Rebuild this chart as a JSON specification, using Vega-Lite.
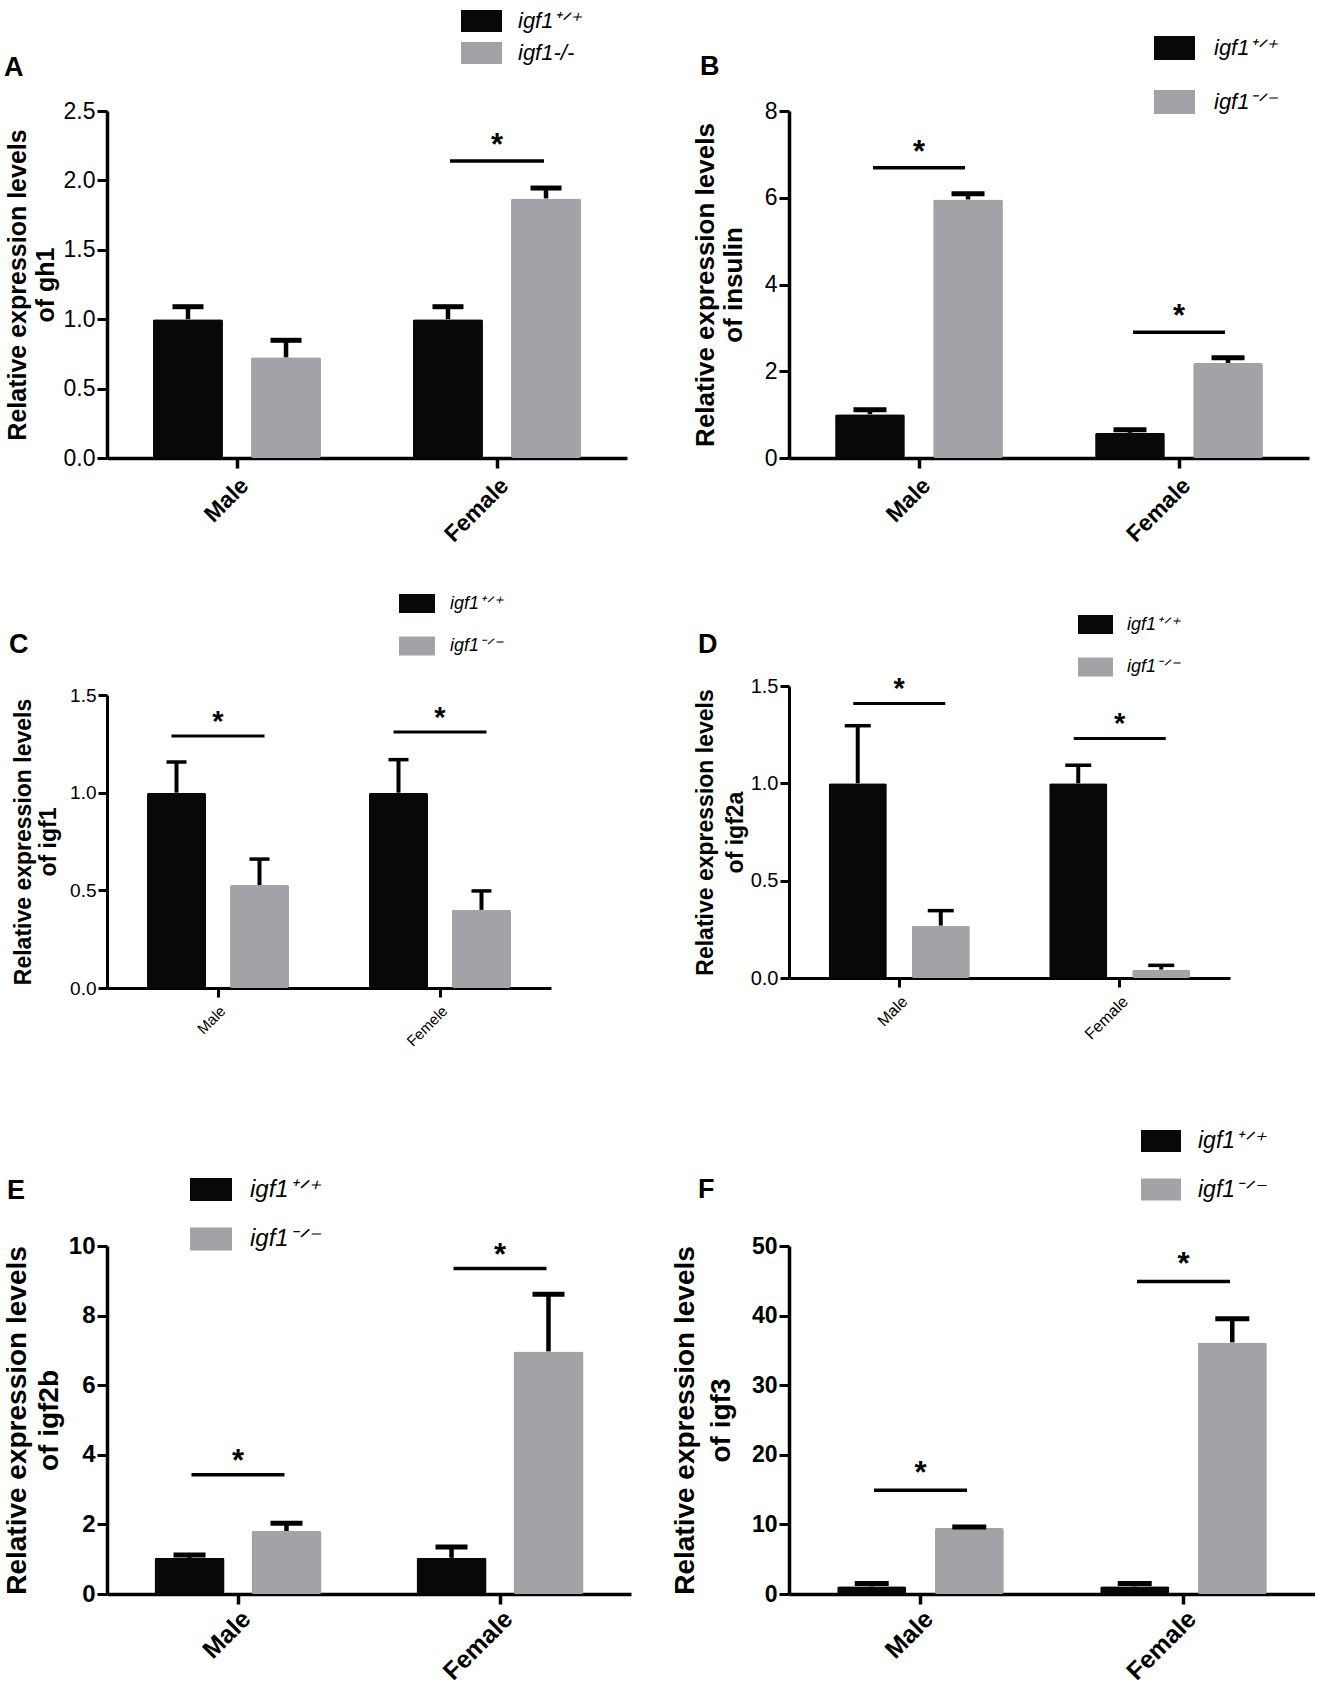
{
  "$schema": "https://vega.github.io/schema/vega-lite/v6.json",
  "background": "white",
  "padding": {"left": 3, "top": 0, "right": 0, "bottom": 5},
  "autosize": {"type": "pad"},
  "datasets": {
    "bars": [
      {"panel": "A", "sex": "Male", "genotype": "igf1+/+", "value": 1.0, "upper": 1.09},
      {"panel": "A", "sex": "Male", "genotype": "igf1-/-", "value": 0.725, "upper": 0.848},
      {"panel": "A", "sex": "Female", "genotype": "igf1+/+", "value": 1.0, "upper": 1.09},
      {"panel": "A", "sex": "Female", "genotype": "igf1-/-", "value": 1.87, "upper": 1.945},
      {"panel": "B", "sex": "Male", "genotype": "igf1+/+", "value": 1.01, "upper": 1.11},
      {"panel": "B", "sex": "Male", "genotype": "igf1-/-", "value": 5.96, "upper": 6.09},
      {"panel": "B", "sex": "Female", "genotype": "igf1+/+", "value": 0.58, "upper": 0.65},
      {"panel": "B", "sex": "Female", "genotype": "igf1-/-", "value": 2.19, "upper": 2.31},
      {"panel": "C", "sex": "Male", "genotype": "igf1+/+", "value": 1.0, "upper": 1.157},
      {"panel": "C", "sex": "Male", "genotype": "igf1-/-", "value": 0.527, "upper": 0.66},
      {"panel": "C", "sex": "Female", "genotype": "igf1+/+", "value": 1.0, "upper": 1.169},
      {"panel": "C", "sex": "Female", "genotype": "igf1-/-", "value": 0.4, "upper": 0.497},
      {"panel": "D", "sex": "Male", "genotype": "igf1+/+", "value": 1.0, "upper": 1.296},
      {"panel": "D", "sex": "Male", "genotype": "igf1-/-", "value": 0.269, "upper": 0.346},
      {"panel": "D", "sex": "Female", "genotype": "igf1+/+", "value": 1.0, "upper": 1.093},
      {"panel": "D", "sex": "Female", "genotype": "igf1-/-", "value": 0.043, "upper": 0.065},
      {"panel": "E", "sex": "Male", "genotype": "igf1+/+", "value": 1.04, "upper": 1.12},
      {"panel": "E", "sex": "Male", "genotype": "igf1-/-", "value": 1.81, "upper": 2.03},
      {"panel": "E", "sex": "Female", "genotype": "igf1+/+", "value": 1.04, "upper": 1.35},
      {"panel": "E", "sex": "Female", "genotype": "igf1-/-", "value": 6.97, "upper": 8.61},
      {"panel": "F", "sex": "Male", "genotype": "igf1+/+", "value": 1.1, "upper": 1.5},
      {"panel": "F", "sex": "Male", "genotype": "igf1-/-", "value": 9.48, "upper": 9.62},
      {"panel": "F", "sex": "Female", "genotype": "igf1+/+", "value": 1.1, "upper": 1.5},
      {"panel": "F", "sex": "Female", "genotype": "igf1-/-", "value": 36.15, "upper": 39.55}
    ],
    "sig": [
      {"panel": "A", "sex": "Female", "level": 2.14},
      {"panel": "B", "sex": "Male", "level": 6.69},
      {"panel": "B", "sex": "Female", "level": 2.9},
      {"panel": "C", "sex": "Male", "level": 1.29},
      {"panel": "C", "sex": "Female", "level": 1.31},
      {"panel": "D", "sex": "Male", "level": 1.41},
      {"panel": "D", "sex": "Female", "level": 1.23},
      {"panel": "E", "sex": "Male", "level": 3.43},
      {"panel": "E", "sex": "Female", "level": 9.35},
      {"panel": "F", "sex": "Male", "level": 14.9},
      {"panel": "F", "sex": "Female", "level": 44.9}
    ]
  },
  "config": {
    "font": "Liberation Sans",
    "view": {"stroke": null},
    "axis": {
      "grid": false,
      "domainColor": "black",
      "tickColor": "black",
      "labelColor": "black",
      "titleColor": "black",
      "labelFont": "Liberation Sans",
      "titleFont": "Liberation Sans",
      "labelFlush": false,
      "labelOverlap": false
    },
    "legend": {"labelFont": "Liberation Sans", "labelColor": "black"},
    "title": {"font": "Liberation Sans", "color": "black"}
  },
  "resolve": {
    "scale": {"color": "independent", "xOffset": "independent"},
    "legend": {"color": "independent"}
  },
  "columns": 2,
  "spacing": {"row": 228, "column": 158},
  "bounds": "flush",
  "concat": [
    {
      "width": 520,
      "height": 347,
      "title": {"text": "A", "anchor": "start", "frame": "group", "dx": -103, "offset": 0, "dy": 102, "fontSize": 27, "fontWeight": "bold", "baseline": "alphabetic"},
      "encoding": {
        "x": {
          "field": "sex", "type": "nominal",
          "scale": {"domain": ["Male", "Female"], "paddingInner": 0, "paddingOuter": 0},
          "axis": {"title": null, "labelAngle": -45, "labelFontSize": 23, "labelFontWeight": "bold", "domainWidth": 3.5, "tickWidth": 3.5, "tickSize": 10, "labelPadding": 6}
        }
      },
      "layer": [
        {
          "data": {"name": "bars"},
          "transform": [{"filter": "datum.panel === 'A'"}],
          "mark": {"type": "bar", "cornerRadius": 2},
          "encoding": {
            "xOffset": {"field": "genotype", "type": "nominal", "scale": {"domain": ["igf1+/+", "igf1-/-"], "paddingInner": 0.286, "paddingOuter": 0.469}},
            "y": {
              "field": "value", "type": "quantitative",
              "scale": {"domain": [0, 2.5], "nice": false},
              "axis": {"values": [0, 0.5, 1, 1.5, 2, 2.5], "format": ".1f", "labelFontSize": 23, "tickSize": 10, "tickWidth": 3, "domainWidth": 3.5, "labelPadding": 2, "title": ["Relative expression levels", "of gh1"], "titleFontSize": 25, "titleFontWeight": "bold", "titleLineHeight": 28, "titlePadding": 5}
            },
            "color": {
              "field": "genotype", "type": "nominal",
              "scale": {"domain": ["igf1+/+", "igf1-/-"], "range": ["#070909", "#a3a3a7"]},
              "legend": {"orient": "none", "legendX": 354, "legendY": -110.5, "title": null, "padding": 0, "symbolType": "M-1,-0.54L1,-0.54L1,0.54L-1,0.54Z", "symbolSize": 1681, "symbolStrokeWidth": 0, "labelFontSize": 22, "labelFontStyle": "italic", "labelOffset": 16, "rowPadding": 0, "labelExpr": "datum.label == 'igf1+/+' ? 'igf1⁺ᐟ⁺' : 'igf1-/-'"}
            }
          }
        },
        {
          "data": {"name": "bars"},
          "transform": [{"filter": "datum.panel === 'A'"}],
          "mark": {"type": "rule", "strokeWidth": 4.5, "color": "black"},
          "encoding": {
            "xOffset": {"field": "genotype", "type": "nominal"},
            "y": {"field": "value", "type": "quantitative"},
            "y2": {"field": "upper"}
          }
        },
        {
          "data": {"name": "bars"},
          "transform": [{"filter": "datum.panel === 'A'"}],
          "mark": {"type": "tick", "size": 31, "thickness": 5, "color": "black", "opacity": 1},
          "encoding": {
            "xOffset": {"field": "genotype", "type": "nominal"},
            "y": {"field": "upper", "type": "quantitative"}
          }
        },
        {
          "data": {"name": "sig"},
          "transform": [{"filter": "datum.panel === 'A'"}],
          "mark": {"type": "tick", "size": 94, "thickness": 3.5, "color": "black", "opacity": 1},
          "encoding": {"y": {"field": "level", "type": "quantitative"}}
        },
        {
          "data": {"name": "sig"},
          "transform": [{"filter": "datum.panel === 'A'"}],
          "mark": {"type": "text", "text": "*", "fontSize": 31, "fontWeight": "bold", "baseline": "alphabetic", "dy": -6, "color": "black"},
          "encoding": {"y": {"field": "level", "type": "quantitative"}}
        }
      ]
    },
    {
      "width": 520,
      "height": 347,
      "title": {"text": "B", "anchor": "start", "frame": "group", "dx": -89, "offset": 0, "dy": 74, "fontSize": 27, "fontWeight": "bold", "baseline": "alphabetic"},
      "encoding": {
        "x": {
          "field": "sex", "type": "nominal",
          "scale": {"domain": ["Male", "Female"], "paddingInner": 0, "paddingOuter": 0},
          "axis": {"title": null, "labelAngle": -45, "labelFontSize": 23, "labelFontWeight": "bold", "domainWidth": 3.5, "tickWidth": 3.5, "tickSize": 10, "labelPadding": 6}
        }
      },
      "layer": [
        {
          "data": {"name": "bars"},
          "transform": [{"filter": "datum.panel === 'B'"}],
          "mark": {"type": "bar", "cornerRadius": 2},
          "encoding": {
            "xOffset": {"field": "genotype", "type": "nominal", "scale": {"domain": ["igf1+/+", "igf1-/-"], "paddingInner": 0.289, "paddingOuter": 0.47}},
            "y": {
              "field": "value", "type": "quantitative",
              "scale": {"domain": [0, 8], "nice": false},
              "axis": {"values": [0, 2, 4, 6, 8], "format": "d", "labelFontSize": 23, "tickSize": 10, "tickWidth": 3, "domainWidth": 3.5, "labelPadding": 2, "title": ["Relative expression levels", "of insulin"], "titleFontSize": 26, "titleFontWeight": "bold", "titleLineHeight": 28, "titlePadding": 18}
            },
            "color": {
              "field": "genotype", "type": "nominal",
              "scale": {"domain": ["igf1+/+", "igf1-/-"], "range": ["#070909", "#a3a3a7"]},
              "legend": {"orient": "none", "legendX": 365, "legendY": -83.5, "title": null, "padding": 0, "symbolType": "M-1,-0.585L1,-0.585L1,0.585L-1,0.585Z", "symbolSize": 1681, "symbolStrokeWidth": 0, "labelFontSize": 22, "labelFontStyle": "italic", "labelOffset": 19, "rowPadding": 21, "labelExpr": "datum.label == 'igf1+/+' ? 'igf1⁺ᐟ⁺' : 'igf1⁻ᐟ⁻'"}
            }
          }
        },
        {
          "data": {"name": "bars"},
          "transform": [{"filter": "datum.panel === 'B'"}],
          "mark": {"type": "rule", "strokeWidth": 4.5, "color": "black"},
          "encoding": {
            "xOffset": {"field": "genotype", "type": "nominal"},
            "y": {"field": "value", "type": "quantitative"},
            "y2": {"field": "upper"}
          }
        },
        {
          "data": {"name": "bars"},
          "transform": [{"filter": "datum.panel === 'B'"}],
          "mark": {"type": "tick", "size": 33, "thickness": 5, "color": "black", "opacity": 1},
          "encoding": {
            "xOffset": {"field": "genotype", "type": "nominal"},
            "y": {"field": "upper", "type": "quantitative"}
          }
        },
        {
          "data": {"name": "sig"},
          "transform": [{"filter": "datum.panel === 'B'"}],
          "mark": {"type": "tick", "size": 92, "thickness": 3.5, "color": "black", "opacity": 1},
          "encoding": {"y": {"field": "level", "type": "quantitative"}}
        },
        {
          "data": {"name": "sig"},
          "transform": [{"filter": "datum.panel === 'B'"}],
          "mark": {"type": "text", "text": "*", "fontSize": 31, "fontWeight": "bold", "baseline": "alphabetic", "dy": -6, "color": "black"},
          "encoding": {"y": {"field": "level", "type": "quantitative"}}
        }
      ]
    },
    {
      "width": 444,
      "height": 302,
      "title": {"text": "C", "anchor": "start", "frame": "group", "dx": -98, "offset": 0, "dy": 94, "fontSize": 27, "fontWeight": "bold", "baseline": "alphabetic"},
      "encoding": {
        "x": {
          "field": "sex", "type": "nominal",
          "scale": {"domain": ["Male", "Female"], "paddingInner": 0, "paddingOuter": 0},
          "axis": {"title": null, "labelAngle": -45, "labelFontSize": 15, "domainWidth": 3, "tickWidth": 3, "tickSize": 9, "labelPadding": 6, "labelExpr": "datum.label == 'Female' ? 'Femele' : datum.label"}
        }
      },
      "layer": [
        {
          "data": {"name": "bars"},
          "transform": [{"filter": "datum.panel === 'C'"}],
          "mark": {"type": "bar", "cornerRadius": 2},
          "encoding": {
            "xOffset": {"field": "genotype", "type": "nominal", "scale": {"domain": ["igf1+/+", "igf1-/-"], "paddingInner": 0.289, "paddingOuter": 0.482}},
            "y": {
              "field": "value", "type": "quantitative",
              "scale": {"domain": [0, 1.5], "range": [302, 9], "nice": false},
              "axis": {"values": [0, 0.5, 1, 1.5], "format": ".1f", "labelFontSize": 19, "tickSize": 9, "tickWidth": 3, "domainWidth": 3, "labelPadding": 2, "title": ["Relative expression levels", "of igf1"], "titleFontSize": 23, "titleFontWeight": "bold", "titleLineHeight": 25, "titlePadding": 9}
            },
            "color": {
              "field": "genotype", "type": "nominal",
              "scale": {"domain": ["igf1+/+", "igf1-/-"], "range": ["#070909", "#a3a3a7"]},
              "legend": {"orient": "none", "legendX": 292, "legendY": -100.5, "title": null, "padding": 0, "symbolType": "M-1,-0.53L1,-0.53L1,0.53L-1,0.53Z", "symbolSize": 1296, "symbolStrokeWidth": 0, "labelFontSize": 18, "labelFontStyle": "italic", "labelOffset": 15, "rowPadding": 14.5, "labelExpr": "datum.label == 'igf1+/+' ? 'igf1⁺ᐟ⁺' : 'igf1⁻ᐟ⁻'"}
            }
          }
        },
        {
          "data": {"name": "bars"},
          "transform": [{"filter": "datum.panel === 'C'"}],
          "mark": {"type": "rule", "strokeWidth": 4, "color": "black"},
          "encoding": {
            "xOffset": {"field": "genotype", "type": "nominal"},
            "y": {"field": "value", "type": "quantitative"},
            "y2": {"field": "upper"}
          }
        },
        {
          "data": {"name": "bars"},
          "transform": [{"filter": "datum.panel === 'C'"}],
          "mark": {"type": "tick", "size": 20, "thickness": 3.5, "color": "black", "opacity": 1},
          "encoding": {
            "xOffset": {"field": "genotype", "type": "nominal"},
            "y": {"field": "upper", "type": "quantitative"}
          }
        },
        {
          "data": {"name": "sig"},
          "transform": [{"filter": "datum.panel === 'C'"}],
          "mark": {"type": "tick", "size": 93, "thickness": 3, "color": "black", "opacity": 1},
          "encoding": {"y": {"field": "level", "type": "quantitative"}}
        },
        {
          "data": {"name": "sig"},
          "transform": [{"filter": "datum.panel === 'C'"}],
          "mark": {"type": "text", "text": "*", "fontSize": 29, "fontWeight": "bold", "baseline": "alphabetic", "dy": -5, "color": "black"},
          "encoding": {"y": {"field": "level", "type": "quantitative"}}
        }
      ]
    },
    {
      "width": 441,
      "height": 292,
      "title": {"text": "D", "anchor": "start", "frame": "group", "dx": -91, "offset": 0, "dy": 73, "fontSize": 27, "fontWeight": "bold", "baseline": "alphabetic"},
      "encoding": {
        "x": {
          "field": "sex", "type": "nominal",
          "scale": {"domain": ["Male", "Female"], "paddingInner": 0, "paddingOuter": 0},
          "axis": {"title": null, "labelAngle": -45, "labelFontSize": 16, "domainWidth": 3, "tickWidth": 3, "tickSize": 9, "labelPadding": 6}
        }
      },
      "layer": [
        {
          "data": {"name": "bars"},
          "transform": [{"filter": "datum.panel === 'D'"}],
          "mark": {"type": "bar", "cornerRadius": 2},
          "encoding": {
            "xOffset": {"field": "genotype", "type": "nominal", "scale": {"domain": ["igf1+/+", "igf1-/-"], "paddingInner": 0.3, "paddingOuter": 0.478}},
            "y": {
              "field": "value", "type": "quantitative",
              "scale": {"domain": [0, 1.5], "nice": false},
              "axis": {"values": [0, 0.5, 1, 1.5], "format": ".1f", "labelFontSize": 20, "tickSize": 9, "tickWidth": 3, "domainWidth": 3, "labelPadding": 2, "title": ["Relative expression levels", "of igf2a"], "titleFontSize": 23, "titleFontWeight": "bold", "titleLineHeight": 30, "titlePadding": 3}
            },
            "color": {
              "field": "genotype", "type": "nominal",
              "scale": {"domain": ["igf1+/+", "igf1-/-"], "range": ["#070909", "#a3a3a7"]},
              "legend": {"orient": "none", "legendX": 289, "legendY": -79, "title": null, "padding": 0, "symbolType": "M-1,-0.54L1,-0.54L1,0.54L-1,0.54Z", "symbolSize": 1225, "symbolStrokeWidth": 0, "labelFontSize": 18, "labelFontStyle": "italic", "labelOffset": 14, "rowPadding": 15.5, "labelExpr": "datum.label == 'igf1+/+' ? 'igf1⁺ᐟ⁺' : 'igf1⁻ᐟ⁻'"}
            }
          }
        },
        {
          "data": {"name": "bars"},
          "transform": [{"filter": "datum.panel === 'D'"}],
          "mark": {"type": "rule", "strokeWidth": 4, "color": "black"},
          "encoding": {
            "xOffset": {"field": "genotype", "type": "nominal"},
            "y": {"field": "value", "type": "quantitative"},
            "y2": {"field": "upper"}
          }
        },
        {
          "data": {"name": "bars"},
          "transform": [{"filter": "datum.panel === 'D'"}],
          "mark": {"type": "tick", "size": 26, "thickness": 3.5, "color": "black", "opacity": 1},
          "encoding": {
            "xOffset": {"field": "genotype", "type": "nominal"},
            "y": {"field": "upper", "type": "quantitative"}
          }
        },
        {
          "data": {"name": "sig"},
          "transform": [{"filter": "datum.panel === 'D'"}],
          "mark": {"type": "tick", "size": 92, "thickness": 3, "color": "black", "opacity": 1},
          "encoding": {"y": {"field": "level", "type": "quantitative"}}
        },
        {
          "data": {"name": "sig"},
          "transform": [{"filter": "datum.panel === 'D'"}],
          "mark": {"type": "text", "text": "*", "fontSize": 29, "fontWeight": "bold", "baseline": "alphabetic", "dy": -6, "color": "black"},
          "encoding": {"y": {"field": "level", "type": "quantitative"}}
        }
      ]
    },
    {
      "width": 524,
      "height": 378,
      "title": {"text": "E", "anchor": "start", "frame": "group", "dx": -100, "offset": 0, "dy": 57, "fontSize": 27, "fontWeight": "bold", "baseline": "alphabetic"},
      "encoding": {
        "x": {
          "field": "sex", "type": "nominal",
          "scale": {"domain": ["Male", "Female"], "paddingInner": 0, "paddingOuter": 0},
          "axis": {"title": null, "labelAngle": -45, "labelFontSize": 25, "labelFontWeight": "bold", "domainWidth": 3.5, "tickWidth": 3.5, "tickSize": 10, "labelPadding": 2}
        }
      },
      "layer": [
        {
          "data": {"name": "bars"},
          "transform": [{"filter": "datum.panel === 'E'"}],
          "mark": {"type": "bar", "cornerRadius": 2},
          "encoding": {
            "xOffset": {"field": "genotype", "type": "nominal", "scale": {"domain": ["igf1+/+", "igf1-/-"], "paddingInner": 0.278, "paddingOuter": 0.49}},
            "y": {
              "field": "value", "type": "quantitative",
              "scale": {"domain": [0, 10], "range": [378, 30], "nice": false},
              "axis": {"values": [0, 2, 4, 6, 8, 10], "format": "d", "labelFontSize": 24, "labelFontWeight": "bold", "tickSize": 10, "tickWidth": 3, "domainWidth": 3.5, "labelPadding": 2, "title": ["Relative expression levels", "of igf2b"], "titleFontSize": 28, "titleFontWeight": "bold", "titleLineHeight": 32, "titlePadding": 5}
            },
            "color": {
              "field": "genotype", "type": "nominal",
              "scale": {"domain": ["igf1+/+", "igf1-/-"], "range": ["#070909", "#a3a3a7"]},
              "legend": {"orient": "none", "legendX": 83, "legendY": -47.5, "title": null, "padding": 0, "symbolType": "M-1,-0.55L1,-0.55L1,0.55L-1,0.55Z", "symbolSize": 1764, "symbolStrokeWidth": 0, "labelFontSize": 24, "labelFontStyle": "italic", "labelOffset": 18, "rowPadding": 16.5, "labelExpr": "datum.label == 'igf1+/+' ? 'igf1⁺ᐟ⁺' : 'igf1⁻ᐟ⁻'"}
            }
          }
        },
        {
          "data": {"name": "bars"},
          "transform": [{"filter": "datum.panel === 'E'"}],
          "mark": {"type": "rule", "strokeWidth": 4.5, "color": "black"},
          "encoding": {
            "xOffset": {"field": "genotype", "type": "nominal"},
            "y": {"field": "value", "type": "quantitative"},
            "y2": {"field": "upper"}
          }
        },
        {
          "data": {"name": "bars"},
          "transform": [{"filter": "datum.panel === 'E'"}],
          "mark": {"type": "tick", "size": 32, "thickness": 5, "color": "black", "opacity": 1},
          "encoding": {
            "xOffset": {"field": "genotype", "type": "nominal"},
            "y": {"field": "upper", "type": "quantitative"}
          }
        },
        {
          "data": {"name": "sig"},
          "transform": [{"filter": "datum.panel === 'E'"}],
          "mark": {"type": "tick", "size": 93, "thickness": 3.5, "color": "black", "opacity": 1},
          "encoding": {"y": {"field": "level", "type": "quantitative"}}
        },
        {
          "data": {"name": "sig"},
          "transform": [{"filter": "datum.panel === 'E'"}],
          "mark": {"type": "text", "text": "*", "fontSize": 31, "fontWeight": "bold", "baseline": "alphabetic", "dy": -4, "color": "black"},
          "encoding": {"y": {"field": "level", "type": "quantitative"}}
        }
      ]
    },
    {
      "width": 526,
      "height": 378,
      "title": {"text": "F", "anchor": "start", "frame": "group", "dx": -91, "offset": 0, "dy": 104, "fontSize": 27, "fontWeight": "bold", "baseline": "alphabetic"},
      "encoding": {
        "x": {
          "field": "sex", "type": "nominal",
          "scale": {"domain": ["Male", "Female"], "paddingInner": 0, "paddingOuter": 0},
          "axis": {"title": null, "labelAngle": -45, "labelFontSize": 25, "labelFontWeight": "bold", "domainWidth": 3.5, "tickWidth": 3.5, "tickSize": 10, "labelPadding": 2}
        }
      },
      "layer": [
        {
          "data": {"name": "bars"},
          "transform": [{"filter": "datum.panel === 'F'"}],
          "mark": {"type": "bar", "cornerRadius": 2},
          "encoding": {
            "xOffset": {"field": "genotype", "type": "nominal", "scale": {"domain": ["igf1+/+", "igf1-/-"], "paddingInner": 0.292, "paddingOuter": 0.494}},
            "y": {
              "field": "value", "type": "quantitative",
              "scale": {"domain": [0, 50], "range": [378, 30], "nice": false},
              "axis": {"values": [0, 10, 20, 30, 40, 50], "format": "d", "labelFontSize": 23, "labelFontWeight": "bold", "tickSize": 10, "tickWidth": 3, "domainWidth": 3.5, "labelPadding": 2, "title": ["Relative expression levels", "of igf3"], "titleFontSize": 28, "titleFontWeight": "bold", "titleLineHeight": 36, "titlePadding": 16}
            },
            "color": {
              "field": "genotype", "type": "nominal",
              "scale": {"domain": ["igf1+/+", "igf1-/-"], "range": ["#070909", "#a3a3a7"]},
              "legend": {"orient": "none", "legendX": 352, "legendY": -95, "title": null, "padding": 0, "symbolType": "M-1,-0.55L1,-0.55L1,0.55L-1,0.55Z", "symbolSize": 1600, "symbolStrokeWidth": 0, "labelFontSize": 23, "labelFontStyle": "italic", "labelOffset": 17, "rowPadding": 16.5, "labelExpr": "datum.label == 'igf1+/+' ? 'igf1⁺ᐟ⁺' : 'igf1⁻ᐟ⁻'"}
            }
          }
        },
        {
          "data": {"name": "bars"},
          "transform": [{"filter": "datum.panel === 'F'"}],
          "mark": {"type": "rule", "strokeWidth": 4.5, "color": "black"},
          "encoding": {
            "xOffset": {"field": "genotype", "type": "nominal"},
            "y": {"field": "value", "type": "quantitative"},
            "y2": {"field": "upper"}
          }
        },
        {
          "data": {"name": "bars"},
          "transform": [{"filter": "datum.panel === 'F'"}],
          "mark": {"type": "tick", "size": 34, "thickness": 5, "color": "black", "opacity": 1},
          "encoding": {
            "xOffset": {"field": "genotype", "type": "nominal"},
            "y": {"field": "upper", "type": "quantitative"}
          }
        },
        {
          "data": {"name": "sig"},
          "transform": [{"filter": "datum.panel === 'F'"}],
          "mark": {"type": "tick", "size": 93, "thickness": 3.5, "color": "black", "opacity": 1},
          "encoding": {"y": {"field": "level", "type": "quantitative"}}
        },
        {
          "data": {"name": "sig"},
          "transform": [{"filter": "datum.panel === 'F'"}],
          "mark": {"type": "text", "text": "*", "fontSize": 31, "fontWeight": "bold", "baseline": "alphabetic", "dy": -7, "color": "black"},
          "encoding": {"y": {"field": "level", "type": "quantitative"}}
        }
      ]
    }
  ]
}
